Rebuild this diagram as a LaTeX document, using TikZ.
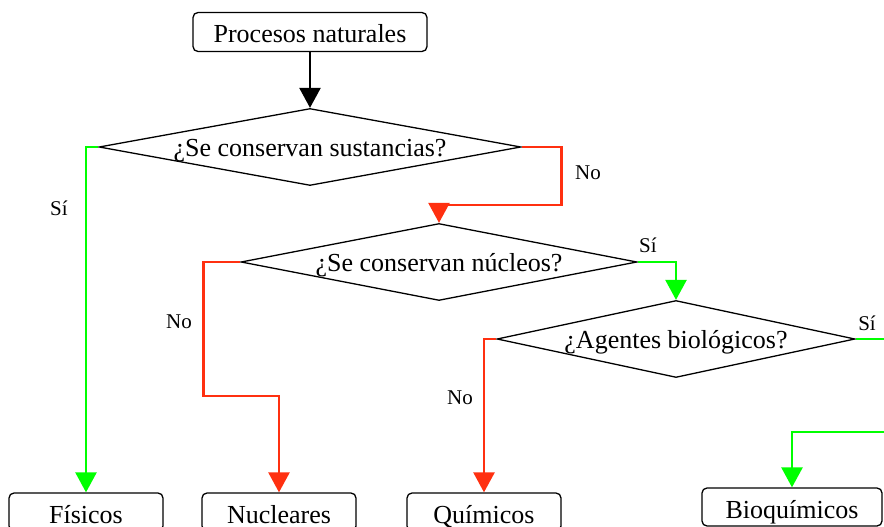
\documentclass[tikz,border=0pt]{standalone}
\usepackage{fontspec}
\setmainfont{Liberation Serif}
\usetikzlibrary{shapes.geometric,arrows.meta}
\definecolor{sigreen}{RGB}{0,255,0}
\definecolor{nored}{RGB}{255,48,16}
\begin{document}
\begin{tikzpicture}[x=1pt,y=-1pt,
  txt/.style={font=\fontsize{26}{30}\selectfont,text depth=0pt},
  box/.style={txt,text height=22pt,draw,rounded corners=5pt,line width=1.3pt,minimum height=39pt},
  question/.style={txt,text height=19pt,draw,diamond,aspect=5,inner sep=0pt,line width=1.3pt},
  lbl/.style={font=\fontsize{21}{25}\selectfont},
  flow/.style={line width=2.6pt,-{Triangle[width=21pt,length=20pt]}},
  sipath/.style={flow,sigreen},
  nopath/.style={flow,nored}]
  \useasboundingbox (0,0) rectangle (884,527);

  % boxes
  \node[box,minimum width=234pt] (proc) at (310,32) {Procesos naturales};
  \node[box,minimum width=154pt,minimum height=38pt] (fis) at (86,512) {Físicos};
  \node[box,minimum width=154pt,minimum height=38pt] (nuc) at (279,512) {Nucleares};
  \node[box,minimum width=154pt,minimum height=38pt] (qui) at (484,512) {Químicos};
  \node[box,minimum width=180pt,minimum height=38pt] (bio) at (792,507) {Bioquímicos};

  % questions
  \node[question,minimum width=422pt,minimum height=77pt] (sust) at (310,147) {¿Se conservan sustancias?};
  \node[question,minimum width=396pt,minimum height=77pt] (nucl) at (439,262) {¿Se conservan núcleos?};
  \node[question,minimum width=358pt,minimum height=77pt] (biol) at (676,339) {¿Agentes biológicos?};

  % connectors
  \draw[flow] (proc.south) -- (sust.north);
  \draw[sipath] (sust.west) -| (fis.north);
  \draw[nopath] (sust.east) -- ++(40,0) -- ++(0,58) -| (nucl.north);
  \draw[nopath] (nucl.west) -- ++(-37,0) -- ++(0,134) -| (nuc.north);
  \draw[sipath] (nucl.east) -| (biol.north);
  \draw[nopath] (biol.west) -| (qui.north);
  \draw[sipath] (biol.east) -- ++(50,0) -- ++(0,93) -| (bio.north);

  % labels
  \node[lbl] (sia) at (59,208) {Sí};
  \node[lbl] (noa) at (588,173) {No};
  \node[lbl] (nob) at (179,322) {No};
  \node[lbl] (sib) at (648,245) {Sí};
  \node[lbl] (noc) at (460,398) {No};
  \node[lbl] (sic) at (867,323) {Sí};
\end{tikzpicture}
\end{document}
